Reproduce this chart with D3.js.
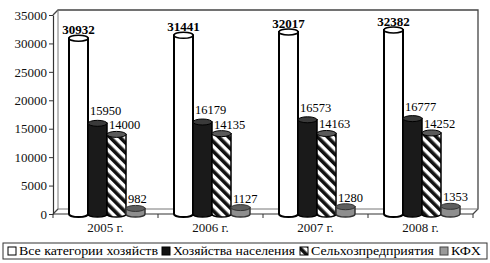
<!DOCTYPE html>
<html><head><meta charset="utf-8">
<script src="https://cdn.jsdelivr.net/npm/d3@7/dist/d3.min.js"></script>
<style>
html,body{margin:0;padding:0;background:#fff;}
svg{display:block;font-family:"Liberation Serif","Times New Roman",serif;}
</style></head>
<body><svg id="c" width="490" height="263"></svg>
<script>
const categories = ["2005 г.","2006 г.","2007 г.","2008 г."];
const seriesNames = ["Все категории хозяйств","Хозяйства населения","Сельхозпредприятия","КФХ"];
const allCategories = [30932, 31441, 32017, 32382];
const households = [15950, 16179, 16573, 16777];
const agriEnterprises = [14000, 14135, 14163, 14252];
const farms = [982, 1127, 1280, 1353];
const yTicks = [0,5000,10000,15000,20000,25000,30000,35000];

const seriesValues = [allCategories, households, agriEnterprises, farms];
const svg = d3.select("#c");
const defs = svg.append("defs");
const pat = defs.append("pattern").attr("id","hatch").attr("patternUnits","userSpaceOnUse")
  .attr("width",7).attr("height",7).attr("patternTransform","rotate(-45)");
pat.append("rect").attr("width",7).attr("height",7).attr("fill","#fff");
pat.append("rect").attr("width",3.6).attr("height",7).attr("fill","#111");

const styles = [
  {fill:"#fff", stroke:"#000", sw:2, top:"#fff"},
  {fill:"#1a1a1a", stroke:"#000", sw:1.5, top:"#3a3a3a"},
  {fill:"url(#hatch)", stroke:"#000", sw:1.5, top:"#5a5a5a"},
  {fill:"#8e8e8e", stroke:"#333", sw:1.5, top:"#5e5e5e"}
];

const x = d3.scaleBand().domain(categories).range([53,473]);
const xi = d3.scaleBand().domain(d3.range(4)).range([16,92]);
const y = d3.scaleLinear().domain([0,35000]).range([214,15]);
const dx = 5, dy = 5;

// 3D frame
const fr = svg.append("g").attr("fill","none").attr("stroke","#444").attr("stroke-width",1.3);
fr.append("path").attr("d",`M${53},${y(35000)}L${53+dx},${y(35000)-dy}L${473+dx},${y(35000)-dy}L${473+dx},${y(0)-dy}L${473},${y(0)}`);
fr.append("path").attr("d",`M${53+dx},${y(35000)-dy}L${53+dx},${y(0)-dy}L${473+dx},${y(0)-dy}`).attr("stroke","#777").attr("stroke-width",1);
fr.append("path").attr("d",`M${53},${y(0)}L${53+dx},${y(0)-dy}`);
svg.append("line").attr("x1",53).attr("x2",473).attr("y1",y(0)).attr("y2",y(0)).attr("stroke","#333").attr("stroke-width",1.2);
// x ticks at band boundaries
const bounds = categories.map(c=>x(c)).concat([x(categories[3])+x.bandwidth()]);
svg.append("g").selectAll("line").data(bounds).join("line")
  .attr("x1",d=>d).attr("x2",d=>d).attr("y1",y(0)).attr("y2",y(0)+4).attr("stroke","#333");

// y axis
const ya = svg.append("g").attr("transform","translate(53,0)")
  .call(d3.axisLeft(y).tickValues(yTicks).tickSize(4).tickSizeOuter(0).tickFormat(d3.format("d")));
ya.select(".domain").attr("stroke","#333").attr("stroke-width",1.2);
ya.selectAll(".tick line").attr("stroke","#333");
ya.selectAll("text").attr("font-family","Liberation Serif").attr("font-size",13).attr("fill","#111").attr("x",-6);

// category labels
svg.append("g").selectAll("text").data(categories).join("text")
  .attr("x",d=>x(d)+x.bandwidth()/2).attr("y",232).attr("text-anchor","middle")
  .attr("font-size",13).attr("fill","#111").text(d=>d);

// cylinders
const ry = 3;
categories.forEach((c,ci)=>{
  seriesValues.forEach((vals,si)=>{
    const v = vals[ci], st = styles[si];
    const x0 = x(c)+xi(si), w = xi.bandwidth(), rx = w/2, cx = x0+rx;
    const yt = y(v), yb = y(0);
    const g = svg.append("g");
    g.append("path")
      .attr("d",`M${x0},${yt}L${x0},${yb}A${rx},${ry} 0 0 0 ${x0+w},${yb}L${x0+w},${yt}Z`)
      .attr("fill",st.fill).attr("stroke",st.stroke).attr("stroke-width",st.sw);
    g.append("ellipse").attr("cx",cx).attr("cy",yt).attr("rx",rx).attr("ry",ry)
      .attr("fill",st.top).attr("stroke",st.stroke).attr("stroke-width",si===0?1.5:1);
  });
});

// value labels
const labelOffset = [4, 8, 5, 5];
categories.forEach((c,ci)=>{
  seriesValues.forEach((vals,si)=>{
    const v = vals[ci];
    const x0 = x(c)+xi(si), w = xi.bandwidth();
    const t = svg.append("text").attr("fill","#000").text(v);
    if(si===0){
      t.attr("x",x0+w/2).attr("y",y(v)-labelOffset[si]).attr("text-anchor","middle")
       .attr("font-weight","bold").attr("font-size",13);
    } else {
      t.attr("x",x0+2).attr("y",y(v)-labelOffset[si]).attr("font-size",12.5);
    }
  });
});

// legend
const lg = svg.append("g");
lg.append("rect").attr("x",3).attr("y",243).attr("width",484).attr("height",16)
  .attr("fill","#fff").attr("stroke","#333").attr("stroke-width",1);
const legX = [8,162,300,440];
const legW = [139,122,123,30];
seriesNames.forEach((n,i)=>{
  lg.append("rect").attr("x",legX[i]).attr("y",247).attr("width",8).attr("height",8)
    .attr("fill",i===0?"#fff":(i===1?"#111":(i===2?"url(#hatch)":"#999")))
    .attr("stroke",i===3?"#444":"#000").attr("stroke-width",1);
  lg.append("text").attr("x",legX[i]+11).attr("y",255).attr("font-size",13.5).attr("fill","#000")
    .attr("textLength",legW[i]).attr("lengthAdjust","spacingAndGlyphs").text(n);
});
</script></body></html>
